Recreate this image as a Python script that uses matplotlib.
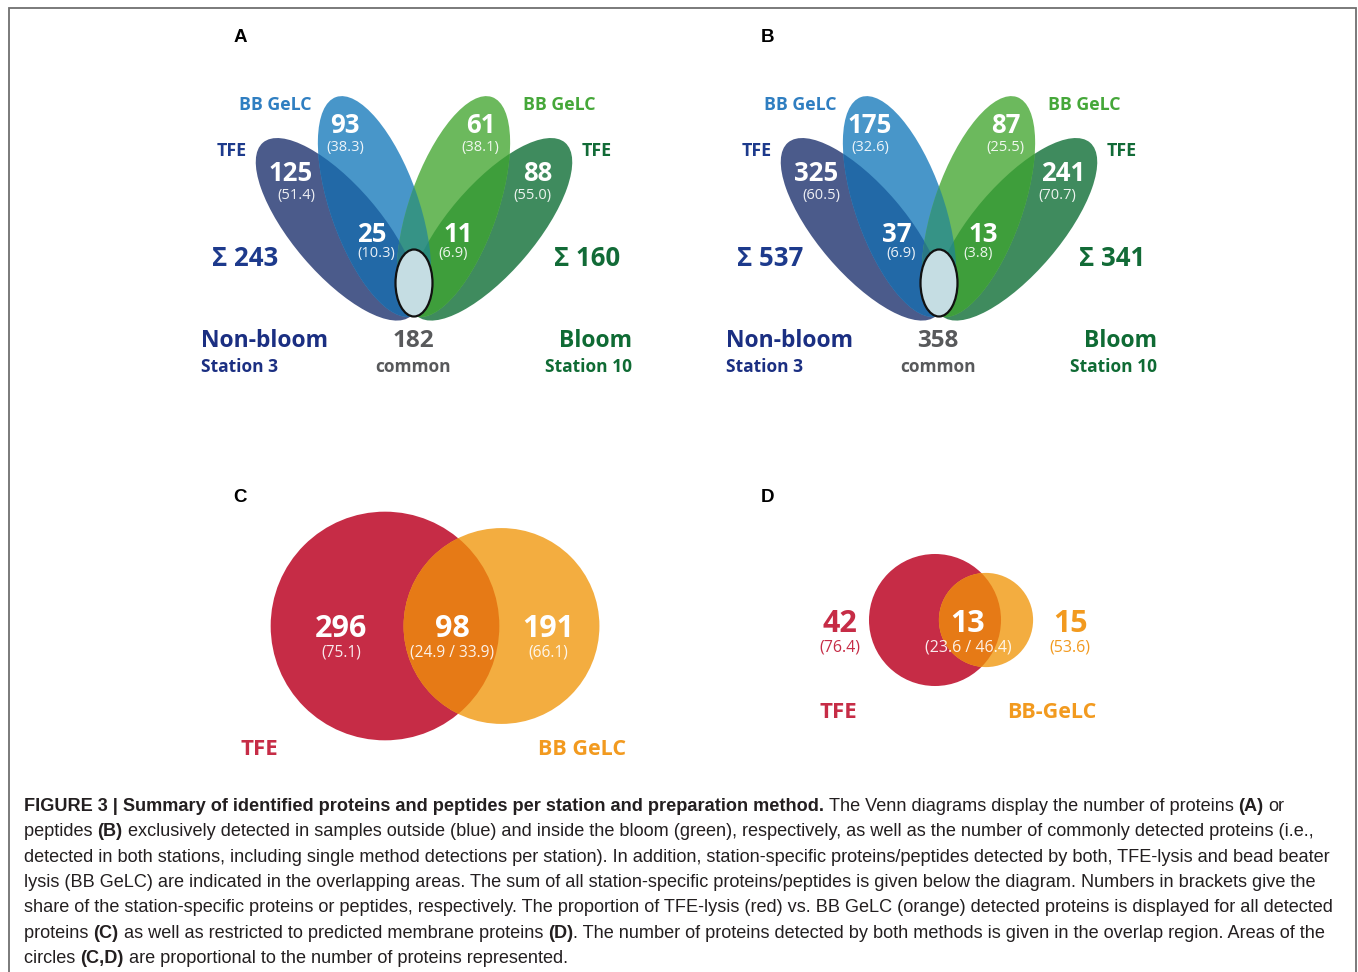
import matplotlib
matplotlib.use("Agg")
import numpy as np
import matplotlib.pyplot as plt
from matplotlib import font_manager
from matplotlib.font_manager import FontProperties
from matplotlib.patches import Ellipse, Circle

W, H = 1358, 972

# ---- data: panels A (proteins) and B (peptides), order [non-bloom, bloom] ----
stations = ["Non-bloom", "Bloom"]
station_ids = ["Station 3", "Station 10"]

prot_tfe = [125, 88]
prot_tfe_pct = [51.4, 55.0]
prot_bb = [93, 61]
prot_bb_pct = [38.3, 38.1]
prot_both = [25, 11]
prot_both_pct = [10.3, 6.9]
prot_sum = [243, 160]
prot_common = 182

pep_tfe = [325, 241]
pep_tfe_pct = [60.5, 70.7]
pep_bb = [175, 87]
pep_bb_pct = [32.6, 25.5]
pep_both = [37, 13]
pep_both_pct = [6.9, 3.8]
pep_sum = [537, 341]
pep_common = 358

# ---- data: panels C (all proteins) and D (membrane proteins), order [TFE only, BB only] ----
all_only = [296, 191]
all_only_pct = [75.1, 66.1]
all_both = 98
all_both_pct = [24.9, 33.9]

mem_only = [42, 15]
mem_only_pct = [76.4, 53.6]
mem_both = 13
mem_both_pct = [23.6, 46.4]

# colours
NAVY = "#1d3a8c"
BLUE_LBL = "#2f7ec1"
GREEN_LBL = "#45a739"
DGREEN = "#126b37"
GREY = "#58595b"
RED = "#c62c46"
ORANGE = "#f3ad40"
ORANGE_TXT = "#f29a1f"
OVERLAP = "#e67a16"

OPEN = "Open Sans"
DY = 2.5  # va='center' sits a little high for these glyphs

fig = plt.figure(figsize=(W / 100, H / 100), dpi=100)
ax = fig.add_axes([0, 0, 1, 1])
ax.set_xlim(0, W)
ax.set_ylim(H, 0)
ax.set_aspect("equal")
ax.axis("off")

# frame
ax.plot([8.5, 8.5, 1355.5, 1355.5], [H, 8.5, 8.5, H], color="#707070", lw=1.3,
        solid_joinstyle="miter")


def label(x, y, s, size, color, weight="bold", ha="center", alpha=1.0):
    ax.text(x, y + DY, s, fontsize=size, color=color, fontweight=weight, family=OPEN,
            ha=ha, va="center", alpha=alpha, zorder=6)


def draw_station_venn(dx, tfe, tfe_pct, bb, bb_pct, both, both_pct, sums, common):
    # petals: (centre, width, height, angle)
    blue_tfe = Ellipse((337 + dx, 229.3), 228, 88, angle=49.5, fc="#4b5b8b", ec="none")
    blue_bb = Ellipse((374.5 + dx, 206.5), 232, 88, angle=70.6, fc="#4896c9", ec="none")
    blue_ov = Ellipse((374.5 + dx, 206.5), 232, 88, angle=70.6, fc="#2269a7", ec="none")
    green_tfe = Ellipse((491 + dx, 229.3), 228, 88, angle=130.5, fc="#3f8b5e", ec="none")
    green_bb = Ellipse((453.5 + dx, 206.5), 232, 88, angle=109.4, fc="#6cb95d", ec="none")
    green_ov = Ellipse((453.5 + dx, 206.5), 232, 88, angle=109.4, fc="#3e9e3b", ec="none")
    teal = Ellipse((374.5 + dx, 206.5), 232, 88, angle=70.6, fc="#1f8498", ec="none", alpha=0.7)
    teal2 = Ellipse((337 + dx, 229.3), 228, 88, angle=49.5, fc="#1d5f86", ec="none", alpha=0.5)
    for p in [blue_tfe, blue_bb, blue_ov, green_tfe, green_bb, green_ov, teal, teal2]:
        ax.add_patch(p)
    blue_ov.set_clip_path(blue_tfe)
    green_ov.set_clip_path(green_tfe)
    teal.set_clip_path(green_bb)
    teal2.set_clip_path(green_bb)
    ax.add_patch(Ellipse((414 + dx, 283), 37, 67, fc="#c5dde3", ec="#111111", lw=1.6, zorder=5))

    # method labels
    label(275 + dx, 103, "BB GeLC", 12.8, BLUE_LBL)
    label(232 + dx, 149, "TFE", 12.8, NAVY)
    label(559 + dx, 103, "BB GeLC", 12.8, GREEN_LBL)
    label(597 + dx, 149, "TFE", 12.8, DGREEN)

    # counts and shares
    big, small = 18.5, 10.5
    pos = [  # (count xy, pct xy) for [TFE, BB, both] x [non-bloom, bloom]
        [((291, 171), (296, 193)), ((538, 171), (532, 193))],
        [((345, 123), (345, 145)), ((481, 123), (480, 145))],
        [((372, 232), (376, 251)), ((458, 232), (453, 251))],
    ]
    for k, (vals, pcts) in enumerate([(tfe, tfe_pct), (bb, bb_pct), (both, both_pct)]):
        for j in range(2):
            (cx, cy), (px, py) = pos[k][j]
            label(cx + dx, cy, str(vals[j]), big, "white")
            label(px + dx, py, f"({pcts[j]:.1f})", small, "white", weight="normal", alpha=0.9)

    label(245 + dx, 256, f"\u03a3 {sums[0]}", 18.5, NAVY)
    label(587 + dx, 256, f"\u03a3 {sums[1]}", 18.5, DGREEN)

    label(201 + dx, 338, stations[0], 16.5, "#1b2f82", ha="left")
    label(201 + dx, 364, station_ids[0], 12.5, "#1b2f82", ha="left")
    label(632 + dx, 338, stations[1], 16.5, "#0f6b34", ha="right")
    label(632 + dx, 364, station_ids[1], 12.5, "#0f6b34", ha="right")
    label(413 + dx, 338, str(common), 17.5, GREY)
    label(413 + dx, 364, "common", 12.5, GREY)


def draw_pair_venn(cx, cy, dist, k, only, only_pct, both, both_pct):
    r_tfe = k * np.sqrt(only[0] + both)
    r_bb = k * np.sqrt(only[1] + both)
    c1 = Circle((cx, cy), r_tfe, fc=RED, ec="none")
    c2 = Circle((cx + dist, cy), r_bb, fc=ORANGE, ec="none")
    c3 = Circle((cx + dist, cy), r_bb, fc=OVERLAP, ec="none")
    for c in [c1, c2, c3]:
        ax.add_patch(c)
    c3.set_clip_path(c1)
    return r_tfe, r_bb


draw_station_venn(0, prot_tfe, prot_tfe_pct, prot_bb, prot_bb_pct, prot_both, prot_both_pct,
                  prot_sum, prot_common)
draw_station_venn(525, pep_tfe, pep_tfe_pct, pep_bb, pep_bb_pct, pep_both, pep_both_pct,
                  pep_sum, pep_common)

# panel C
draw_pair_venn(385, 626, 116.5, 5.76, all_only, all_only_pct, all_both, all_both_pct)
label(341, 626, str(all_only[0]), 22, "white")
label(341, 650, f"({all_only_pct[0]:.1f})", 11.2, "white", weight="normal", alpha=0.9)
label(452, 626, str(all_both), 22, "white")
label(452, 650, f"({all_both_pct[0]:.1f} / {all_both_pct[1]:.1f})", 11.2, "white",
      weight="normal", alpha=0.9)
label(548, 626, str(all_only[1]), 22, "white")
label(548, 650, f"({all_only_pct[1]:.1f})", 11.2, "white", weight="normal", alpha=0.9)
label(259, 747, "TFE", 16, RED)
label(582, 747, "BB GeLC", 15.5, ORANGE_TXT)

# panel D
draw_pair_venn(935, 620, 51, 8.9, mem_only, mem_only_pct, mem_both, mem_both_pct)
label(840, 621, str(mem_only[0]), 22, RED)
label(840, 645, f"({mem_only_pct[0]:.1f})", 11.5, RED, weight="normal")
label(968, 621, str(mem_both), 22, "white")
label(968, 645, f"({mem_both_pct[0]:.1f} / {mem_both_pct[1]:.1f})", 11.5, "white",
      weight="normal", alpha=0.9)
label(1071, 621, str(mem_only[1]), 22, ORANGE_TXT)
label(1070, 645, f"({mem_only_pct[1]:.1f})", 11.5, ORANGE_TXT, weight="normal")
label(838, 710, "TFE", 16, RED)
label(1052, 710, "BB-GeLC", 15.5, ORANGE_TXT)

# panel letters
for s, x, y in [("A", 240, 36), ("B", 768, 36), ("C", 240, 495), ("D", 768, 495)]:
    ax.text(x, y + 2, s, fontsize=13.5, fontweight="bold", family="Liberation Sans",
            ha="center", va="center", color="black")

# ---- caption ----
caption_lines = [
    [("FIGURE 3 | Summary of identified proteins and peptides per station and preparation method.", True),
     (" The Venn diagrams display the number of proteins ", False), ("(A)", True), (" or", False)],
    [("peptides ", False), ("(B)", True),
     (" exclusively detected in samples outside (blue) and inside the bloom (green), respectively, "
      "as well as the number of commonly detected proteins (i.e.,", False)],
    [("detected in both stations, including single method detections per station). In addition, "
      "station-specific proteins/peptides detected by both, TFE-lysis and bead beater", False)],
    [("lysis (BB GeLC) are indicated in the overlapping areas. The sum of all station-specific "
      "proteins/peptides is given below the diagram. Numbers in brackets give the", False)],
    [("share of the station-specific proteins or peptides, respectively. The proportion of TFE-lysis "
      "(red) vs. BB GeLC (orange) detected proteins is displayed for all detected", False)],
    [("proteins ", False), ("(C)", True), (" as well as restricted to predicted membrane proteins ", False),
     ("(D)", True), (". The number of proteins detected by both methods is given in the overlap region. "
                     "Areas of the", False)],
    [("circles ", False), ("(C,D)", True), (" are proportional to the number of proteins represented.", False)],
]
# right ends of caption lines 2-6 in the reference, used to fit the font size
line_ends = [1336, 1339, 1312, 1329, 1331]

names = {f.name for f in font_manager.fontManager.ttflist}
cap_family = "Liberation Sans Narrow" if "Liberation Sans Narrow" in names else "Liberation Sans"
renderer = fig.canvas.get_renderer()


def text_w(s, fp):
    t = ax.text(0, 0, "|" + s + "|", fontproperties=fp)
    w = t.get_window_extent(renderer).width
    t.remove()
    t = ax.text(0, 0, "||", fontproperties=fp)
    w -= t.get_window_extent(renderer).width
    t.remove()
    return w


base = FontProperties(family=cap_family, size=12)
base_b = FontProperties(family=cap_family, size=12, weight="bold")
w_sum = sum(text_w(s, base_b if b else base) for runs in caption_lines[1:6] for s, b in runs)
cap_size = 12 * sum(e - 24 for e in line_ends) / w_sum
fp_reg = FontProperties(family=cap_family, size=cap_size)
fp_bold = FontProperties(family=cap_family, size=cap_size, weight="bold")

for i, runs in enumerate(caption_lines):
    x = 24
    y = 811 + i * 25.3
    for s, bold in runs:
        fp = fp_bold if bold else fp_reg
        lead = len(s) - len(s.lstrip(" "))
        ax.text(x + text_w(" " * lead, fp) if lead else x, y, s.lstrip(" "), fontproperties=fp,
                color="#231f20", ha="left", va="baseline")
        x += text_w(s, fp)

fig.savefig("out.png", dpi=100)
